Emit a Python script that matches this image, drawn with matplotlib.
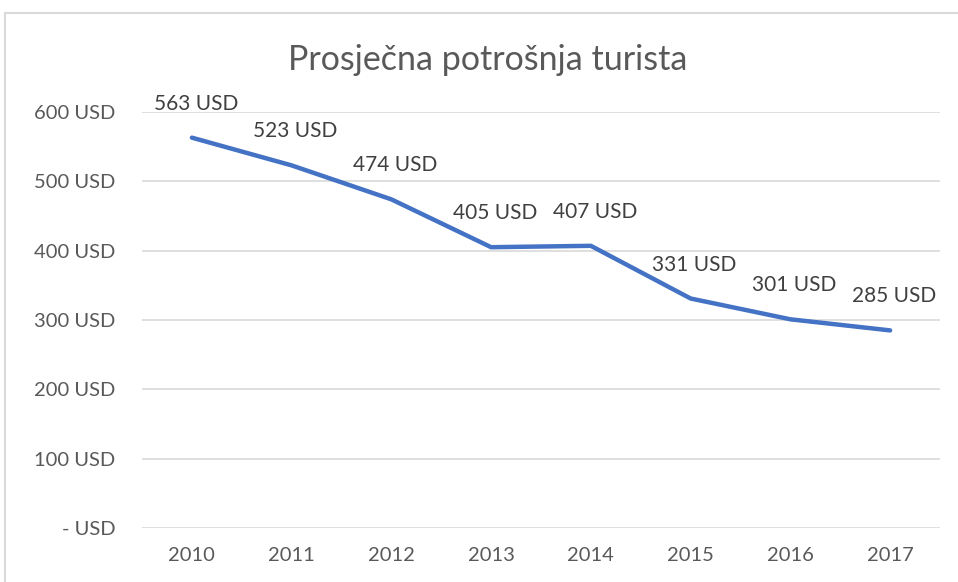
import matplotlib
matplotlib.use("Agg")
import matplotlib.pyplot as plt
from matplotlib.patches import Rectangle

years = ["2010", "2011", "2012", "2013", "2014", "2015", "2016", "2017"]
values = [563, 523, 474, 405, 407, 331, 301, 285]
yticks = [0, 100, 200, 300, 400, 500, 600]
ytick_labels = ["- USD", "100 USD", "200 USD", "300 USD", "400 USD", "500 USD", "600 USD"]
title = "Prosječna potrošnja turista"

plt.rcParams['font.family'] = ['Lato', 'DejaVu Sans']

W, H = 958, 582
fig = plt.figure(figsize=(W / 100, H / 100), dpi=100)
fig.patch.set_facecolor("white")

# chart frame
fig.patches.append(Rectangle((5 / W, -0.05), 1.2, (H - 13) / H + 0.05, transform=fig.transFigure,
                             fill=False, edgecolor="#D9D9D9", linewidth=1.5))

ax = fig.add_axes([142 / W, (H - 528) / H, (940 - 142) / W, (528 - 112) / H])
x = list(range(len(years)))
ax.plot(x, values, color="#4472C4", linewidth=3.2, solid_capstyle="round", zorder=3)
ax.set_xlim(-0.5, len(years) - 0.5)
ax.set_ylim(0, 600)
ax.set_yticks(yticks)
ax.set_yticklabels(ytick_labels)
ax.set_xticks(x)
ax.set_xticklabels(years)
ax.grid(axis="y", color="#D9D9D9", linewidth=1.2)
ax.set_axisbelow(True)
for s in ax.spines.values():
    s.set_visible(False)
ax.tick_params(length=0, labelsize=14.5, colors="#595959")
ax.tick_params(axis="y", pad=19)
ax.tick_params(axis="x", pad=14)

for xi, v in zip(x, values):
    ax.annotate(f"{v} USD", (xi, v), xytext=(4, 34), textcoords="offset pixels",
                ha="center", va="center", fontsize=15, color="#404040", clip_on=False)

fig.text(488 / W, 1 - 60 / H, title, ha="center", va="center", fontsize=24.5, color="#595959")

fig.savefig("out.png", dpi=100)
